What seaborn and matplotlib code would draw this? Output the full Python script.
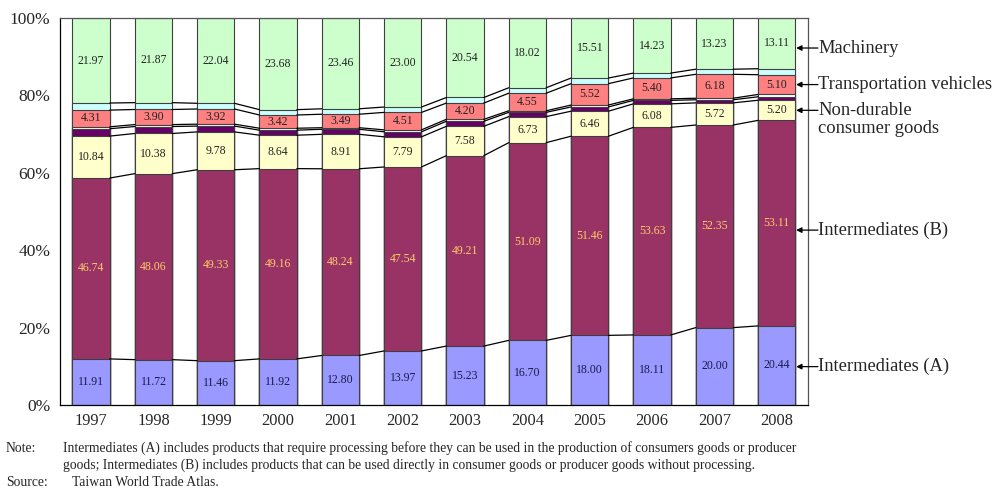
import numpy as np
import matplotlib
matplotlib.use("Agg")
import matplotlib.pyplot as plt
import seaborn as sns

years = ["1997", "1998", "1999", "2000", "2001", "2002",
         "2003", "2004", "2005", "2006", "2007", "2008"]

inter_a = [11.91, 11.72, 11.46, 11.92, 12.80, 13.97, 15.23, 16.70, 18.00, 18.11, 20.00, 20.44]
inter_b = [46.74, 48.06, 49.33, 49.16, 48.24, 47.54, 49.21, 51.09, 51.46, 53.63, 52.35, 53.11]
nondurable = [10.84, 10.38, 9.78, 8.64, 8.91, 7.79, 7.58, 6.73, 6.46, 6.08, 5.72, 5.20]
durable = [1.90, 1.80, 1.50, 1.30, 1.30, 1.30, 1.30, 1.10, 1.10, 0.90, 0.80, 0.90]
others = [0.50, 0.50, 0.50, 0.50, 0.40, 0.50, 0.50, 0.40, 0.50, 0.40, 0.40, 0.60]
transport = [4.31, 3.90, 3.92, 3.42, 3.49, 4.51, 4.20, 4.55, 5.52, 5.40, 6.18, 5.10]
misc = [1.83, 1.77, 1.47, 1.38, 1.40, 1.39, 1.44, 1.41, 1.45, 1.25, 1.32, 1.54]
machinery = [21.97, 21.87, 22.04, 23.68, 23.46, 23.00, 20.54, 18.02, 15.51, 14.23, 13.23, 13.11]

layers = [inter_a, inter_b, nondurable, durable, others, transport, misc, machinery]
colors = ["#9999FF", "#993366", "#FFFFCC", "#660066", "#FFFFFF", "#FF8080", "#CCFFFF", "#CCFFCC"]
labelled = {0: "#1a1a4a", 1: "#FFCC66", 2: "#222222", 5: "#222222", 7: "#222222"}

sns.set_theme(style="white")
plt.rcParams["font.family"] = ["Liberation Serif", "DejaVu Serif"]

fig = plt.figure(figsize=(9.96, 4.92), dpi=100)
ax = fig.add_axes([0.0602, 0.1768, 0.7510, 0.7866])

tops = np.cumsum(np.array(layers), axis=0)
bottoms = tops - np.array(layers)

# stacked bars: draw cumulative totals from the top layer down
for k in range(len(layers) - 1, -1, -1):
    sns.barplot(x=years, y=tops[k], color=colors[k], saturation=1, width=0.6,
                edgecolor="#404040", linewidth=0.8, errorbar=None, ax=ax)

# series lines joining the segment boundaries of neighbouring bars
n = len(years)
for k in range(len(layers) - 1):
    for i in range(n - 1):
        ax.plot([i + 0.3, i + 0.7], [tops[k][i], tops[k][i + 1]],
                color="black", lw=0.9, zorder=3)

# value labels
for k, col in labelled.items():
    for i in range(n):
        v = layers[k][i]
        ax.text(i, bottoms[k][i] + v / 2, f"{v:.2f}", ha="center", va="center",
                fontsize=8.5, color=col, zorder=4)

ax.set_xlim(-0.5, n - 0.5)
ax.set_ylim(0, 100)
ax.set_yticks(range(0, 101, 20))
ax.set_yticklabels([f"{t}%" for t in range(0, 101, 20)], fontsize=12.5)
ax.set_xticks(range(n))
ax.set_xticklabels(years, fontsize=11.8)
ax.set_xticks(np.arange(-0.5, n, 1), minor=True)
ax.tick_params(axis="x", which="major", length=0, pad=6)
ax.tick_params(axis="x", which="minor", direction="in", length=3, color="black")
ax.tick_params(axis="y", which="major", direction="out", length=4, color="black", pad=3)
ax.set_xlabel("")
ax.set_ylabel("")
for side, sp in ax.spines.items():
    sp.set_visible(True)
    sp.set_linewidth(0.9)
    sp.set_color("black" if side in ("left", "bottom") else "#555555")

# category labels with arrows pointing to the 2008 bar
last = n - 1
callouts = [
    ("Machinery", 7, -1.2),
    ("Transportation vehicles", 5, 0.0),
    ("Non-durable\nconsumer goods", 2, 0.0),
    ("Intermediates (B)", 1, -1.8),
    ("Intermediates (A)", 0, -0.3),
]
for text, k, nudge in callouts:
    yc = bottoms[k][last] + layers[k][last] / 2 + nudge
    ax.annotate("", xy=(last + 0.31, yc), xytext=(last + 0.66, yc),
                arrowprops=dict(arrowstyle="-|>", color="black", lw=0.9,
                                mutation_scale=8, shrinkA=0, shrinkB=0),
                annotation_clip=False)
    lines = text.split("\n")
    ax.text(last + 0.66, yc, lines[0], ha="left", va="center", fontsize=13.3,
            clip_on=False)
    if len(lines) > 1:
        ax.text(last + 0.66, yc - 4.7, lines[1], ha="left", va="center",
                fontsize=13.3, clip_on=False)

# footnotes
fs = 9.8
fig.text(6 / 996, 1 - 448 / 492, "Note:", fontsize=fs, va="center")
fig.text(63 / 996, 1 - 448 / 492,
         "Intermediates (A) includes products that require processing before they can be used in the production of consumers goods or producer",
         fontsize=fs, va="center")
fig.text(63 / 996, 1 - 465 / 492,
         "goods; Intermediates (B) includes products that can be used directly in consumer goods or producer goods without processing.",
         fontsize=fs, va="center")
fig.text(6 / 996, 1 - 482 / 492, "Source:", fontsize=fs, va="center")
fig.text(72 / 996, 1 - 482 / 492, "Taiwan World Trade Atlas.", fontsize=fs, va="center")

fig.savefig("out.png", dpi=100)
